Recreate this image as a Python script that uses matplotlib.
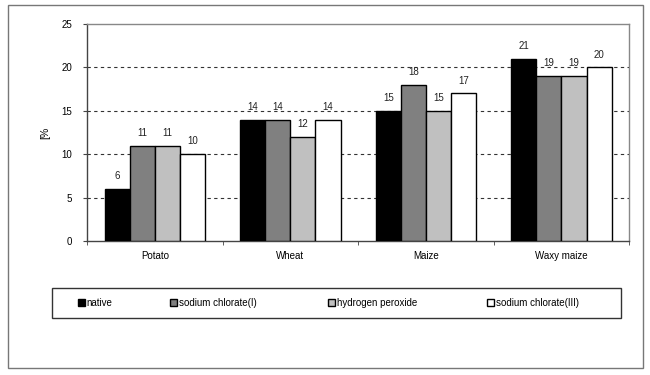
import matplotlib
matplotlib.use("Agg")
import matplotlib.pyplot as plt
import numpy as np
from matplotlib.patches import Rectangle

categories = ["Potato", "Wheat", "Maize", "Waxy maize"]
series_names = ["native", "sodium chlorate(I)", "hydrogen peroxide", "sodium chlorate(III)"]
native = [6, 14, 15, 21]
sodium_chlorate_I = [11, 14, 18, 19]
hydrogen_peroxide = [11, 12, 15, 19]
sodium_chlorate_III = [10, 14, 17, 20]
series = [native, sodium_chlorate_I, hydrogen_peroxide, sodium_chlorate_III]
colors = ["#000000", "#808080", "#c0c0c0", "#ffffff"]
yticks = [0, 5, 10, 15, 20, 25]

plt.rcParams['font.family'] = ['Liberation Sans', 'DejaVu Sans']
fs = 7

fig = plt.figure(figsize=(6.5, 3.75), dpi=100)
ax = fig.add_axes([0.134, 0.357, 0.834, 0.579])

x = np.arange(len(categories))
bw = 0.185
offsets = (np.arange(4) - 1.5) * bw
handles = []
for i, (vals, c, name) in enumerate(zip(series, colors, series_names)):
    bars = ax.bar(x + offsets[i], vals, bw, color=c, edgecolor="black", linewidth=1.0,
                  label=name, zorder=3)
    handles.append(bars)
    for xi, v in zip(x + offsets[i], vals):
        ax.text(xi, v + 0.9, f"{v}", ha="center", va="bottom", fontsize=fs, color="#222222")

ax.set_xlim(-0.5, len(categories) - 0.5)
ax.set_ylim(0, 25)
ax.set_yticks(yticks)
ax.set_yticklabels([str(t) for t in yticks], fontsize=fs)
ax.set_xticks(x)
ax.set_xticklabels(categories, fontsize=fs)
ax.tick_params(axis='x', which='major', length=0, pad=7)
ax.set_xticks(np.arange(len(categories) + 1) - 0.5, minor=True)
ax.tick_params(axis='x', which='minor', length=3, direction='out', color='#444444')
ax.tick_params(axis='y', length=3, direction='out', color='#444444', pad=8)

for t in [5, 10, 15, 20]:
    ax.axhline(t, color="#333333", linestyle=(0, (3, 3)), linewidth=0.8, zorder=1)

for side in ["top", "right"]:
    ax.spines[side].set_color("#888888")
    ax.spines[side].set_linewidth(1.0)
for side in ["left", "bottom"]:
    ax.spines[side].set_color("#444444")
    ax.spines[side].set_linewidth(1.0)

ax.set_ylabel("[%", fontsize=fs + 0.5, labelpad=8)

# legend: frame box plus individually placed entries
fig.patches.append(Rectangle((0.080, 0.152), 0.875, 0.080, transform=fig.transFigure,
                             fill=False, edgecolor="#333333", linewidth=1.0))
leg_x = [0.120, 0.262, 0.505, 0.749]
for h, name, lx in zip(handles, series_names, leg_x):
    lg = fig.legend(handles=[h], labels=[name], loc="center left",
                    bbox_to_anchor=(lx, 0.192), frameon=False, fontsize=fs,
                    borderpad=0, borderaxespad=0, handlelength=0.7, handleheight=0.7,
                    handletextpad=0.2)

fig.patches.append(Rectangle((0.012, 0.019), 0.978, 0.968, transform=fig.transFigure,
                             fill=False, edgecolor="#777777", linewidth=1.0))

fig.savefig("out.png", dpi=100)
